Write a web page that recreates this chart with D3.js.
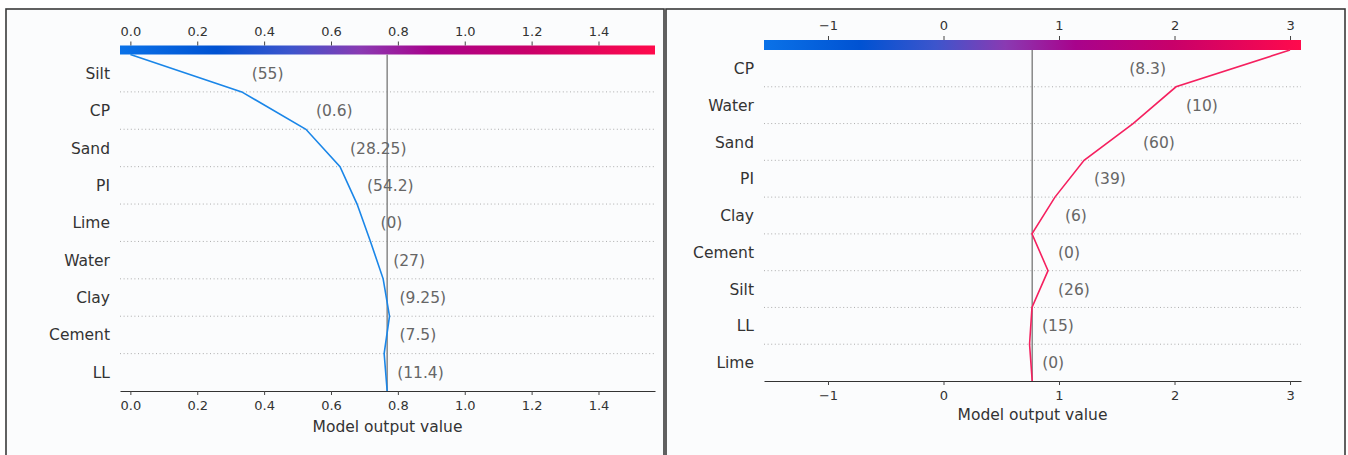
<!DOCTYPE html>
<html>
<head>
<meta charset="utf-8">
<script src="https://cdn.jsdelivr.net/npm/d3@7"></script>
<style>
  body { margin: 0; background: #fff; }
  svg { display: block; font-family: "DejaVu Sans", sans-serif; }
</style>
</head>
<body>
<svg id="chart" width="1348" height="455"></svg>
<script>
// values (top row first)
var baseValue = 0.768;

var leftFeatures = ["Silt", "CP", "Sand", "PI", "Lime", "Water", "Clay", "Cement", "LL"];
var leftFeatureValues = ["55", "0.6", "28.25", "54.2", "0", "27", "9.25", "7.5", "11.4"];
// model output at each row boundary, from the top (prediction) down to the base value
var leftPath = [0.0, 0.333, 0.525, 0.627, 0.678, 0.718, 0.756, 0.775, 0.759, baseValue];
var leftTicks = [0.0, 0.2, 0.4, 0.6, 0.8, 1.0, 1.2, 1.4];
var leftDomain = [-0.031, 1.569];

var rightFeatures = ["CP", "Water", "Sand", "PI", "Clay", "Cement", "Silt", "LL", "Lime"];
var rightFeatureValues = ["8.3", "10", "60", "39", "6", "0", "26", "15", "0"];
var rightPath = [3.0, 2.013, 1.641, 1.217, 0.965, 0.766, 0.905, 0.766, 0.745, baseValue];
var rightTicks = [-1, 0, 1, 2, 3];
var rightDomain = [-1.554, 3.095];

// colormap stops sampled from the colour bar
var cmapStops = ["#0a72e8", "#0052d2", "#3d55cc", "#8a3ab2", "#a8038c", "#c8006a", "#ff0a4c"];
var cmapPos = [0, 0.18, 0.32, 0.45, 0.58, 0.76, 1];

var svg = d3.select("#chart");

// panel frames
svg.append("rect").attr("x", 6).attr("y", 9).attr("width", 658).attr("height", 460)
  .attr("fill", "#fbfcfd").attr("stroke", "#3a3a3a").attr("stroke-width", 1.6);
svg.append("rect").attr("x", 666).attr("y", 9).attr("width", 679).attr("height", 460)
  .attr("fill", "#fbfcfd").attr("stroke", "#3a3a3a").attr("stroke-width", 1.6);

var defs = svg.append("defs");
var grad = defs.append("linearGradient").attr("id", "cmap")
  .attr("x1", "0%").attr("x2", "100%").attr("y1", "0%").attr("y2", "0%");
cmapStops.forEach(function(c, i) {
  grad.append("stop").attr("offset", (cmapPos[i] * 100) + "%").attr("stop-color", c);
});

function drawPanel(p) {
  var g = svg.append("g");
  var x = d3.scaleLinear().domain(p.domain).range([p.x0, p.x1]);
  var n = p.features.length;
  var y = d3.scaleLinear().domain([0, n]).range([p.top, p.bottom]);

  // colour bar
  g.append("rect")
    .attr("x", p.x0).attr("y", p.top - p.barH)
    .attr("width", p.x1 - p.x0).attr("height", p.barH)
    .attr("fill", "url(#cmap)");

  var topAxis = g.append("g")
    .attr("transform", "translate(0," + (p.top - p.barH) + ")")
    .call(d3.axisTop(x).tickValues(p.ticks).tickFormat(p.fmt).tickSize(4).tickPadding(6));
  topAxis.select(".domain").remove();
  topAxis.selectAll("line").attr("stroke", "#444");
  topAxis.selectAll("text").attr("font-size", 13).attr("fill", "#333")
    .style("font-family", "DejaVu Sans");

  // dotted row separators
  for (var i = 1; i < n; i++) {
    g.append("line")
      .attr("x1", p.x0).attr("x2", p.x1)
      .attr("y1", y(i)).attr("y2", y(i))
      .attr("stroke", "#999").attr("stroke-width", 0.8)
      .attr("stroke-dasharray", "1,2.6");
  }

  // base value line
  g.append("line")
    .attr("x1", x(baseValue)).attr("x2", x(baseValue))
    .attr("y1", y(0)).attr("y2", y(n))
    .attr("stroke", "#888").attr("stroke-width", 1.5);

  // feature names
  g.selectAll(".fname").data(p.features).enter().append("text")
    .attr("class", "fname")
    .attr("x", p.x0 - 10)
    .attr("y", function(d, i) { return y(i + 0.5); })
    .attr("dy", "0.36em")
    .attr("text-anchor", "end")
    .attr("font-size", 15.5).attr("fill", "#333")
    .text(function(d) { return d; });

  // decision path
  var line = d3.line()
    .x(function(d) { return x(d); })
    .y(function(d, i) { return y(i); });
  g.append("path").datum(p.path)
    .attr("d", line)
    .attr("fill", "none")
    .attr("stroke", p.lineColor)
    .attr("stroke-width", 1.6);

  // feature values beside the path
  p.values.forEach(function(v, i) {
    var hi = Math.max(p.path[i], p.path[i + 1]);
    var lo = Math.min(p.path[i], p.path[i + 1]);
    var t = g.append("text")
      .attr("y", y(i + 0.5)).attr("dy", "0.36em")
      .attr("font-size", 15.5).attr("fill", "#666")
      .text("(" + v + ")");
    var w = t.node().getComputedTextLength();
    if (x(hi) + 10 + w > p.x1) {
      t.attr("x", x(lo) - 10).attr("text-anchor", "end");
    } else {
      t.attr("x", x(hi) + 10).attr("text-anchor", "start");
    }
  });

  // bottom axis
  var bottomAxis = g.append("g")
    .attr("transform", "translate(0," + p.bottom + ")")
    .call(d3.axisBottom(x).tickValues(p.ticks).tickFormat(p.fmt).tickSize(4).tickSizeOuter(0).tickPadding(6));
  bottomAxis.select(".domain").attr("stroke", "#333").attr("stroke-width", 1.2);
  bottomAxis.selectAll("line").attr("stroke", "#444");
  bottomAxis.selectAll("text").attr("font-size", 13).attr("fill", "#333")
    .style("font-family", "DejaVu Sans");

  g.append("text")
    .attr("x", (p.x0 + p.x1) / 2)
    .attr("y", p.bottom + p.titleGap)
    .attr("dy", "0.36em")
    .attr("text-anchor", "middle")
    .attr("font-size", 15.5).attr("fill", "#333")
    .text("Model output value");
}

drawPanel({
  features: leftFeatures, values: leftFeatureValues, path: leftPath,
  ticks: leftTicks, domain: leftDomain, fmt: d3.format(".1f"),
  x0: 120, x1: 655, top: 54.5, bottom: 391, barH: 9, titleGap: 35,
  lineColor: "#1a86e8"
});

drawPanel({
  features: rightFeatures, values: rightFeatureValues, path: rightPath,
  ticks: rightTicks, domain: rightDomain, fmt: d3.format("d"),
  x0: 764, x1: 1301, top: 50, bottom: 381, barH: 10, titleGap: 33,
  lineColor: "#f5205f"
});
</script>
</body>
</html>
